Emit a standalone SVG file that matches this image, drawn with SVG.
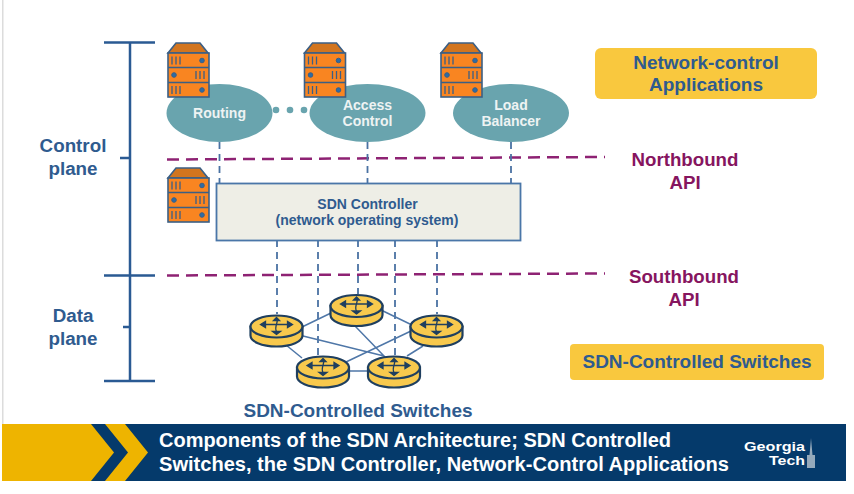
<svg xmlns="http://www.w3.org/2000/svg" width="854" height="494" viewBox="0 0 854 494">
<style>
text{font-family:"Liberation Sans",Arial,sans-serif;font-weight:700;text-anchor:middle}
.b{fill:#2f5b8f;font-size:19px}
.m{fill:#86155f;font-size:18.700px}
.n{fill:#2f5b8f;font-size:18.800px}
.w{fill:#eef3f3;font-size:14px}
.c{fill:#2f5b8f;font-size:14px}
.t{fill:#fff;font-size:20px;text-anchor:start}
.g{fill:#fff;font-size:12.500px;text-anchor:end}
.br{stroke:#2a5a93;stroke-width:2.500;fill:none}
.api{stroke:#8e2273;stroke-width:2.500;stroke-dasharray:12 7;fill:none}
.bus{stroke:#4a72a3;stroke-width:1.800;stroke-dasharray:7 5;fill:none}
.link{stroke:#4f77a8;stroke-width:1.500;fill:none}
.el{fill:#69a4ae}
.tag{fill:#f9c83e}
</style>
<defs>
<g id="server">
<path d="M1 11 9 1H33L41 11Z" fill="#d2751f" stroke="#3b5f85" stroke-width="1.600"/>
<rect x="1" y="11" width="41" height="44" fill="#f98521" stroke="#3b5f85" stroke-width="1.600"/>
<path d="M1 25.500H42M1 40.500H42" stroke="#3b5f85" stroke-width="1.600"/>
<g stroke="#3b5f85" stroke-width="1.300" fill="none">
<path d="M5 14.500v8M9 14.500v8M13 14.500v8M5 44v8M9 44v8M13 44v8M29 29v8M33 29v8M37 29v8"/>
</g>
<g fill="#2d6ca6" stroke="#3b5f85">
<circle cx="35" cy="18.500" r="2.300"/><circle cx="7" cy="33" r="2.300"/><circle cx="35" cy="48" r="2.300"/>
</g>
</g>
<g id="router">
<path d="M1 12V21C1 27 12 32 27 32S53 27 53 21V12Z" fill="#f8c94d" stroke="#1f3f5f" stroke-width="2.200"/>
<ellipse cx="27" cy="12" rx="26" ry="11" fill="#f8c94d" stroke="#1f3f5f" stroke-width="2.200"/>
<g stroke="#1f3f5f" stroke-width="1.300" fill="#1f3f5f">
<path d="M12 10H42M27 4C30 7 24 12 27 17" fill="none"/>
<path d="M11 10 16 7V13ZM43 10 38 7V13ZM23 17H31L27 20ZM27 3 24 6H30Z"/>
</g>
</g>
</defs>
<rect width="854" height="494" fill="#fff"/>
<rect x="2" y="0" width="1.500" height="424" fill="#dcdcdc"/>
<g id="banner">
<rect x="2" y="424" width="844" height="57" fill="#053a6b"/>
<path d="M2 424H91L114 452.500 91 481H2Z" fill="#eeb400"/>
<path d="M105 424H125L148 452.500 125 481H105L128 452.500Z" fill="#eeb400"/>
<text class="t" x="159" y="447" textLength="512" lengthAdjust="spacingAndGlyphs">Components of the SDN Architecture; SDN Controlled</text>
<text class="t" x="159" y="471" textLength="570" lengthAdjust="spacingAndGlyphs">Switches, the SDN Controller, Network-Control Applications</text>
<text class="g" x="805" y="451" textLength="61" lengthAdjust="spacingAndGlyphs">Georgia</text>
<text class="g" x="805" y="465" textLength="36" lengthAdjust="spacingAndGlyphs">Tech</text>
<path d="M807 468V455H809.500L811 438 812.500 455H815V468Z" fill="#b9c5d0" opacity=".8"/>
</g>
<g id="connectors">
<path class="br" d="M104 42.500H155M130 42.500V381M120 158H130M104 275.500H155M123 327H130M104 381H155"/>
<path class="api" d="M167 159.500 605 157M167 275.500 605 273.500"/>
<path class="bus" d="M219.500 142V183M367.500 142V183M511 142V183M277 240V314M318 240V355M358 240V294M395 240V355M437 240V314"/>
<path class="link" d="M302 327 331 313M303 336 384 356M286 345 302 358M355 326 385 357M381 310 412 325M346 362 411 331M348 371H368M407 356 423 346"/>
</g>
<g id="routing"><ellipse class="el" cx="219.500" cy="113" rx="53" ry="29"/><text class="w" x="219.500" y="118">Routing</text></g>
<g id="access-control"><ellipse class="el" cx="367.500" cy="113" rx="58" ry="29"/><text class="w" x="367.500" y="110">Access</text><text class="w" x="367.500" y="126">Control</text></g>
<g id="load-balancer"><ellipse class="el" cx="511" cy="113" rx="58" ry="29"/><text class="w" x="511" y="110">Load</text><text class="w" x="511" y="126">Balancer</text></g>
<g id="dots" fill="#69a4ae"><circle cx="276" cy="110" r="3.300"/><circle cx="290" cy="110" r="3.300"/><circle cx="304" cy="110" r="3.300"/></g>
<g id="server-routing"><use href="#server" x="167" y="42"/></g>
<g id="server-access"><use href="#server" x="303.500" y="42"/></g>
<g id="server-load"><use href="#server" x="440" y="42"/></g>
<g id="server-controller"><use href="#server" x="167" y="167"/></g>
<g id="sdn-controller">
<rect x="216.500" y="183.500" width="304" height="57" fill="#eeeee6" stroke="#4a76a8" stroke-width="1.800"/>
<text class="c" x="367.500" y="209">SDN Controller</text>
<text class="c" x="367" y="225">(network operating system)</text>
</g>
<g id="switch-1"><use href="#router" x="249.500" y="314.500"/></g>
<g id="switch-2"><use href="#router" x="329.500" y="294"/></g>
<g id="switch-3"><use href="#router" x="409.500" y="314.500"/></g>
<g id="switch-4"><use href="#router" x="296" y="355.500"/></g>
<g id="switch-5"><use href="#router" x="367" y="355.500"/></g>
<g id="control-plane-label"><text class="n" x="73" y="152">Control</text><text class="n" x="73" y="175">plane</text></g>
<g id="data-plane-label"><text class="n" x="73" y="322">Data</text><text class="n" x="73" y="345">plane</text></g>
<g id="northbound"><text class="m" x="685" y="166">Northbound</text><text class="m" x="685" y="189">API</text></g>
<g id="southbound"><text class="m" x="684" y="283">Southbound</text><text class="m" x="684" y="306">API</text></g>
<g id="apps-tag"><rect class="tag" x="595" y="48" width="222" height="51" rx="6"/><text class="b" x="706" y="69">Network-control</text><text class="b" x="706" y="91">Applications</text></g>
<g id="switches-tag"><rect class="tag" x="570" y="344" width="254" height="36" rx="4"/><text class="b" x="697" y="368">SDN-Controlled Switches</text></g>
<g id="switches-label"><text class="b" x="358" y="417">SDN-Controlled Switches</text></g>
</svg>
